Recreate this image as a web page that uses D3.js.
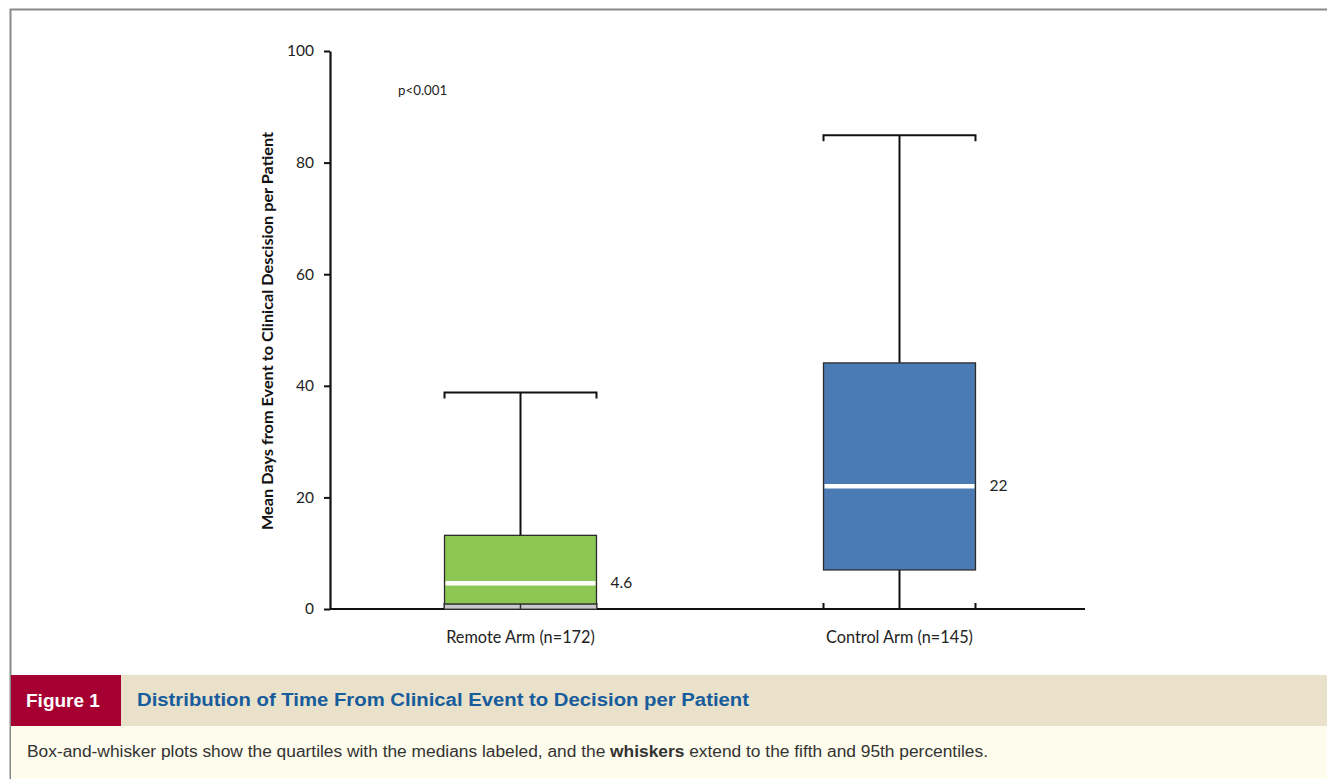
<!DOCTYPE html>
<html>
<head>
<meta charset="utf-8">
<script src="https://cdn.jsdelivr.net/npm/d3@7"></script>
<style>
  html, body { margin: 0; padding: 0; background: #ffffff; }
  svg { display: block; }
</style>
</head>
<body>
<svg id="fig" width="1327" height="779"></svg>
<script>
// Arms and their distribution summaries (days)
const arms = ["Remote Arm (n=172)", "Control Arm (n=145)"];
const p5 = [0, 0];
const q1 = [0.9, 7];
const medians = [4.6, 22];
const q3 = [13.2, 44.1];
const p95 = [38.8, 84.9];
const medianLabels = ["4.6", "22"];
const boxColors = ["#8dc753", "#4b7bb4"];
const lowerColors = ["#c9c9c9", "none"];
const yTicks = [0, 20, 40, 60, 80, 100];

const svg = d3.select("#fig");
const W = 1327, H = 779;

// Figure frame
svg.append("rect").attr("x", 0).attr("y", 0).attr("width", W).attr("height", H).attr("fill", "#ffffff");
svg.append("path")
  .attr("d", `M10.5,${H} L10.5,9.5 L${W},9.5`)
  .attr("fill", "none").attr("stroke", "#8a8a8a").attr("stroke-width", 2);

// Scales
const y = d3.scaleLinear().domain([0, 100]).range([609, 51]);
const x = d3.scaleBand().domain(arms).range([331, 1089]).padding(0);
const boxW = x.bandwidth() * 0.401;
const axisLeftX = 330, axisRightX = 1085;

const chartFont = "Lato, 'Open Sans', sans-serif";

// Y axis
const yAxis = d3.axisLeft(y).tickValues(yTicks).tickSize(6).tickPadding(10).tickSizeOuter(0);
const gy = svg.append("g").attr("transform", `translate(${axisLeftX},0)`).call(yAxis);
gy.select(".domain").attr("stroke", "#111").attr("stroke-width", 2.2);
gy.selectAll(".tick line").attr("stroke", "#111").attr("stroke-width", 2);
gy.selectAll(".tick text").attr("font-family", chartFont).attr("font-size", 15.5).attr("fill", "#222");

// X axis: baseline and category labels
const gx = svg.append("g").attr("transform", `translate(0,${y(0)})`)
  .call(d3.axisBottom(x).tickSize(0).tickPadding(22).tickSizeOuter(0));
gx.select(".domain").attr("d", `M${axisLeftX},0H${axisRightX}`)
  .attr("stroke", "#111").attr("stroke-width", 2.2);
gx.selectAll(".tick text").attr("font-family", chartFont).attr("font-size", 16.3).attr("fill", "#222");

// Y axis title
svg.append("text")
  .attr("transform", `translate(273,${(y(0) + y(100)) / 2 + 1}) rotate(-90)`)
  .attr("text-anchor", "middle")
  .attr("font-family", chartFont).attr("font-weight", "bold").attr("font-size", 15)
  .attr("fill", "#111")
  .attr("textLength", 398).attr("lengthAdjust", "spacingAndGlyphs")
  .text("Mean Days from Event to Clinical Descision per Patient");

// Significance note
svg.append("text").attr("x", 398).attr("y", 95)
  .attr("font-family", chartFont).attr("font-size", 13.3).attr("fill", "#222")
  .text("p<0.001");

// Boxes
const data = arms.map((a, i) => ({
  arm: a, p5: p5[i], q1: q1[i], med: medians[i], q3: q3[i], p95: p95[i],
  label: medianLabels[i], color: boxColors[i], lower: lowerColors[i]
}));

const g = svg.append("g");
const boxes = g.selectAll("g.box").data(data).join("g").attr("class", "box")
  .attr("transform", d => `translate(${x(d.arm) + x.bandwidth() / 2},0)`);

const capTick = 6;

// whisker stems
boxes.append("line")
  .attr("x1", 0).attr("x2", 0)
  .attr("y1", d => y(d.p95)).attr("y2", d => y(d.q3))
  .attr("stroke", "#111").attr("stroke-width", 2);
boxes.append("line")
  .attr("x1", 0).attr("x2", 0)
  .attr("y1", d => y(d.q1)).attr("y2", d => y(d.p5))
  .attr("stroke", "#111").attr("stroke-width", 2);

// upper caps
boxes.append("path")
  .attr("d", d => `M${-boxW / 2},${y(d.p95) + capTick} V${y(d.p95)} H${boxW / 2} V${y(d.p95) + capTick}`)
  .attr("fill", "none").attr("stroke", "#111").attr("stroke-width", 2);
// lower caps
boxes.append("path")
  .attr("d", d => `M${-boxW / 2},${y(d.p5) - capTick} V${y(d.p5)} H${boxW / 2} V${y(d.p5) - capTick}`)
  .attr("fill", "none").attr("stroke", "#111").attr("stroke-width", 2);

// lower segment between 5th percentile and first quartile
boxes.append("rect")
  .attr("x", -boxW / 2).attr("width", boxW)
  .attr("y", d => y(d.q1)).attr("height", d => y(d.p5) - y(d.q1))
  .attr("fill", d => d.lower)
  .attr("stroke", d => d.lower === "none" ? "none" : "#444").attr("stroke-width", 1);
boxes.filter(d => d.lower !== "none").append("line")
  .attr("x1", 0).attr("x2", 0)
  .attr("y1", d => y(d.q1)).attr("y2", d => y(d.p5))
  .attr("stroke", "#333").attr("stroke-width", 1.5);

// interquartile box
boxes.append("rect")
  .attr("x", -boxW / 2).attr("width", boxW)
  .attr("y", d => y(d.q3)).attr("height", d => y(d.q1) - y(d.q3))
  .attr("fill", d => d.color)
  .attr("stroke", "#2b2b2b").attr("stroke-width", 1.3);

// median line
boxes.append("line")
  .attr("x1", -boxW / 2 + 1).attr("x2", boxW / 2 - 1)
  .attr("y1", d => y(d.med)).attr("y2", d => y(d.med))
  .attr("stroke", "#ffffff").attr("stroke-width", 4.5);

// median labels
boxes.append("text")
  .attr("x", boxW / 2 + 14).attr("y", d => y(d.med) + 5)
  .attr("font-family", chartFont).attr("font-size", 15.5).attr("fill", "#222")
  .text(d => d.label);

// Caption band
const capFont = "'Liberation Sans', Arial, sans-serif";
svg.append("rect").attr("x", 11).attr("y", 675).attr("width", W - 11).attr("height", 51).attr("fill", "#e9e1c9");
svg.append("rect").attr("x", 11).attr("y", 675).attr("width", 110).attr("height", 51).attr("fill", "#a60032");
svg.append("rect").attr("x", 11).attr("y", 726).attr("width", W - 11).attr("height", H - 726).attr("fill", "#fefcec");

svg.append("text").attr("x", 26).attr("y", 707)
  .attr("font-family", capFont).attr("font-weight", "bold").attr("font-size", 19).attr("fill", "#ffffff")
  .text("Figure 1");
svg.append("text").attr("x", 137).attr("y", 706)
  .attr("font-family", capFont).attr("font-weight", "bold").attr("font-size", 18).attr("fill", "#175c9c")
  .attr("textLength", 612).attr("lengthAdjust", "spacingAndGlyphs")
  .text("Distribution of Time From Clinical Event to Decision per Patient");

const cap = svg.append("text").attr("x", 27).attr("y", 757)
  .attr("font-family", capFont).attr("font-size", 16).attr("fill", "#333")
  .attr("textLength", 961).attr("lengthAdjust", "spacingAndGlyphs");
cap.append("tspan").text("Box-and-whisker plots show the quartiles with the medians labeled, and the ");
cap.append("tspan").attr("font-weight", "bold").text("whiskers");
cap.append("tspan").text(" extend to the fifth and 95th percentiles.");
</script>
</body>
</html>
